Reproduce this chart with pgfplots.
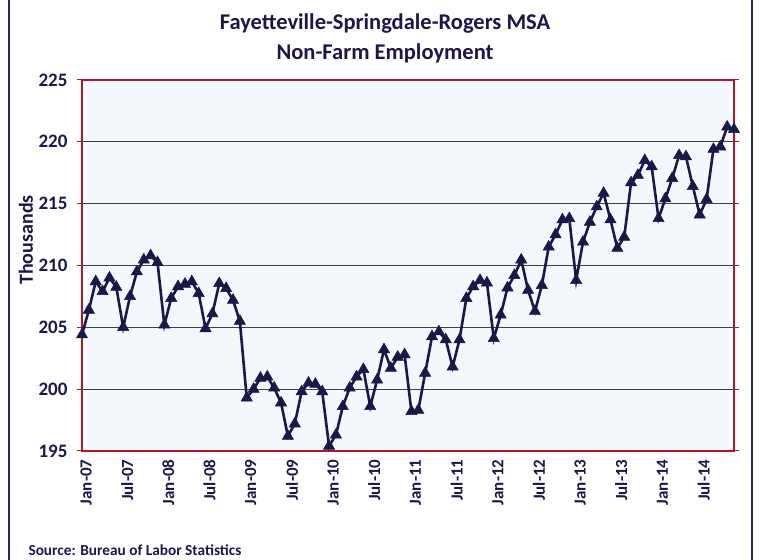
\documentclass[border=0pt]{standalone}
\usepackage{pgfplots}
\pgfplotsset{compat=1.18}
\usepackage{fontspec}
\setmainfont{Carlito}
\definecolor{navy}{HTML}{1B1748}
\definecolor{frame}{HTML}{A6192E}
\definecolor{bgblue}{HTML}{F4F8FD}
\definecolor{outer}{HTML}{2A2560}
\begin{document}
\begin{tikzpicture}[x=1bp,y=1bp]
\useasboundingbox (0,0) rectangle (761,560);
\draw[outer, line width=2.2bp] (9,0) -- (9,560);
\draw[outer, line width=2.2bp] (752,0) -- (752,560);
\begin{axis}[
  at={(82bp,109bp)}, anchor=south west,
  width=652bp, height=371bp, scale only axis,
  xmin=0, xmax=95, ymin=195, ymax=225,
  axis background/.style={fill=bgblue},
  axis line style={frame, line width=2.4bp},
  xtick={0,6,...,90},
  xticklabels={Jan-07,Jul-07,Jan-08,Jul-08,Jan-09,Jul-09,Jan-10,Jul-10,Jan-11,Jul-11,Jan-12,Jul-12,Jan-13,Jul-13,Jan-14,Jul-14},
  x tick label style={rotate=90, anchor=east, font=\fontsize{17bp}{19bp}\selectfont\bfseries, text=navy, yshift=-4bp},
  major x tick style={draw=none},
  ytick={195,200,...,225},
  y tick label style={font=\fontsize{19bp}{21bp}\selectfont\bfseries, text=navy, xshift=-6bp},
  /pgf/number format/assume math mode=true,
  ymajorgrids,
  grid style={black!75, line width=1bp},
  major y tick style={frame, line width=1bp},
  tick align=outside, major tick length=5bp,
  clip=false,
]
\addplot[navy, line width=2.6bp, mark=triangle*, mark size=6.5bp, mark options={fill=navy, draw=navy, line width=0.5bp}] coordinates {
(0,204.4) (1,206.4) (2,208.7) (3,207.9) (4,209.0) (5,208.25) (6,205.0) (7,207.5) (8,209.5) (9,210.45) (10,210.8) (11,210.25)
(12,205.2) (13,207.35) (14,208.3) (15,208.5) (16,208.7) (17,207.75) (18,204.9) (19,206.1) (20,208.55) (21,208.15) (22,207.2) (23,205.5)
(24,199.3) (25,200.0) (26,200.9) (27,201.0) (28,200.1) (29,198.9) (30,196.2) (31,197.2) (32,199.8) (33,200.5) (34,200.4) (35,199.8)
(36,195.4) (37,196.3) (38,198.6) (39,200.1) (40,201.0) (41,201.6) (42,198.6) (43,200.75) (44,203.2) (45,201.7) (46,202.6) (47,202.8)
(48,198.2) (49,198.3) (50,201.3) (51,204.25) (52,204.65) (53,204.0) (54,201.8) (55,204.0) (56,207.35) (57,208.3) (58,208.8) (59,208.6)
(60,204.1) (61,206.0) (62,208.2) (63,209.2) (64,210.45) (65,208.0) (66,206.3) (67,208.4) (68,211.5) (69,212.5) (70,213.7) (71,213.8)
(72,208.8) (73,211.9) (74,213.5) (75,214.75) (76,215.85) (77,213.7) (78,211.4) (79,212.3) (80,216.7) (81,217.3) (82,218.5) (83,218.0)
(84,213.8) (85,215.4) (86,217.05) (87,218.9) (88,218.8) (89,216.4) (90,214.1) (91,215.35) (92,219.4) (93,219.6) (94,221.2) (95,221.0)
};
\end{axis}
\node[navy, font=\fontsize{22.5bp}{30bp}\selectfont\bfseries, align=center] at (385,522) {Fayetteville-Springdale-Rogers MSA\\Non-Farm Employment};
\node[navy, font=\fontsize{20bp}{22bp}\selectfont\bfseries, rotate=90] at (26,320) {Thousands};
\node[navy, font=\fontsize{15.3bp}{17bp}\selectfont\bfseries, anchor=west] at (25,10) {Source: Bureau of Labor Statistics};
\end{tikzpicture}
\end{document}
